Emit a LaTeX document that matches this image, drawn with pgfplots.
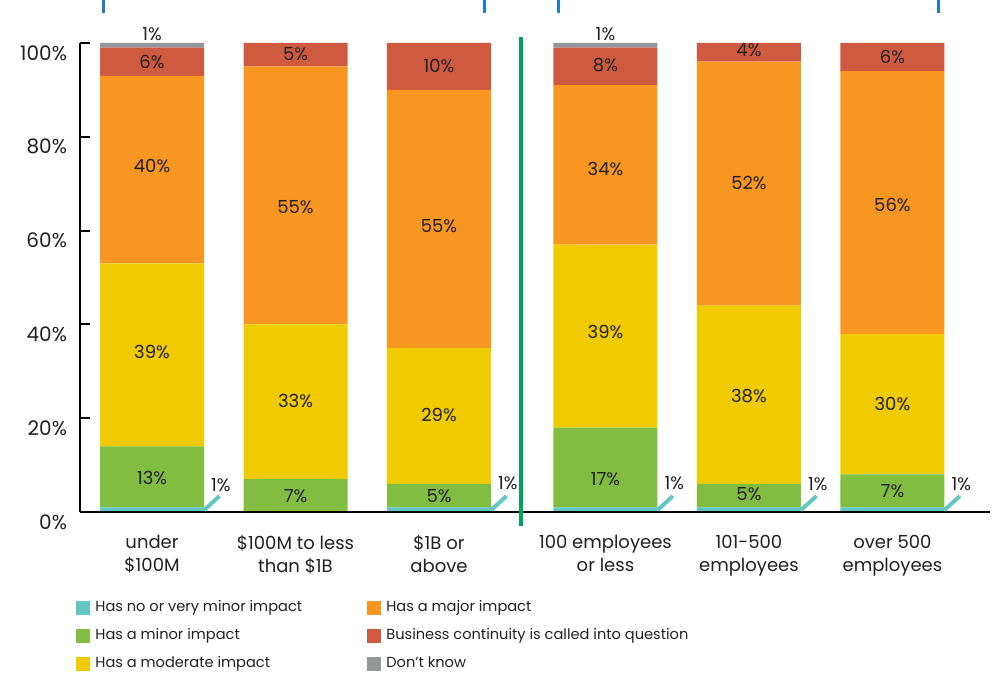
\documentclass[border=0pt]{standalone}
\usepackage{pgfplots}
\pgfplotsset{compat=1.18}
\usepackage{pgfplotstable}
\usepackage{fontspec}
\setmainfont{Poppins}

\definecolor{cyanc}{HTML}{62C6C3}
\definecolor{greenc}{HTML}{80BD41}
\definecolor{yellowc}{HTML}{EFCB00}
\definecolor{orangec}{HTML}{F79621}
\definecolor{redc}{HTML}{CE5A40}
\definecolor{greyc}{HTML}{939598}
\definecolor{sepgreen}{HTML}{00A35C}
\definecolor{topblue}{HTML}{1D7DC5}
\definecolor{txt}{HTML}{231F20}

% columns: none/very minor, minor, moderate, major, business continuity, don't know
\pgfplotstableread{
x    a  b  c  d  e  f
0    1  13 39 40 6  1
1    0  7  33 55 5  0
2    1  5  29 55 10 0
3.16 1  17 39 34 8  1
4.16 1  5  38 52 4  0
5.16 1  7  30 56 6  0
}\bars

% label positions (x, y in percent) and printed value
\pgfplotstableread{
x     y     v
0     101.9 1
0     95.9  6
0     73.8  40
0     34.1  39
0     7.2   13
0.48  5.8   1
1     97.7  5
1     65.0  55
1     23.7  33
1     3.4   7
2     95.1  10
2     61.0  55
2     20.7  29
2     3.4   5
2.48  6.2   1
3.16  101.9 1
3.16  95.3  8
3.16  73.1  34
3.16  38.4  39
3.16  7.0   17
3.64  6.2   1
4.16  98.5  4
4.16  70.1  52
4.16  24.7  38
4.16  3.8   5
4.64  6.0   1
5.16  97.0  6
5.16  65.5  56
5.16  23.0  30
5.16  4.5   7
5.64  6.0   1
}\labels

\pgfplotsset{
  commonaxis/.style={
    at={(40pt,80.5pt)}, anchor=south west,
    scale only axis, width=455pt, height=234.5pt,
    xmin=-0.502, xmax=5.84, ymin=0, ymax=100,
    clip=false,
  }
}

\begin{document}
\begin{tikzpicture}
\path[use as bounding box] (0,0) rectangle (496.5pt,336.5pt);

\begin{axis}[commonaxis,
  ybar stacked, bar width=0.725,
  axis lines*=left,
  axis on top,
  axis line style={line width=1.4pt, black},
  xtick={0,1,2,3.16,4.16,5.16},
  xticklabels={under\\\$100M, \$100M to less\\than \$1B, \$1B or\\above,
               100 employees\\or less, 101-500\\employees, over 500\\employees},
  xticklabel style={align=center, font=\fontsize{9}{11.5}\selectfont, text=txt, yshift=-8pt},
  major x tick style={draw=none},
  ytick={0,20,40,60,80,100},
  yticklabels={0\%,20\%,40\%,60\%,80\%,100\%},
  yticklabel style={font=\fontsize{10}{12}\selectfont, text=txt, xshift=-3pt, yshift=-5pt},
  tick align=inside, major tick length=5pt,
  major y tick style={line width=1pt, black},
]
\addplot[fill=cyanc, draw=none] table[x=x, y=a]{\bars};
\addplot[fill=greenc, draw=none] table[x=x, y=b]{\bars};
\addplot[fill=yellowc, draw=none] table[x=x, y=c]{\bars};
\addplot[fill=orangec, draw=none] table[x=x, y=d]{\bars};
\addplot[fill=redc, draw=none] table[x=x, y=e]{\bars};
\addplot[fill=greyc, draw=none] table[x=x, y=f]{\bars};
\end{axis}

\begin{axis}[commonaxis, hide axis,
  legend columns=2,
  legend image code/.code={\path[#1] (0pt,-3.5pt) rectangle (7pt,3.5pt);},
  legend style={at={(-0.0044,-0.189)}, anchor=north west, draw=none, fill=none,
    inner sep=0pt, font=\fontsize{7.3}{8}\selectfont, text=txt,
    row sep=7pt, cells={anchor=west},
    nodes={inner sep=0pt, text height=5.2pt, text depth=1.5pt},
    /tikz/every odd column/.append style={column sep=2.5pt},
    /tikz/every even column/.append style={column sep=0pt},
  },
]
\addplot[forget plot, draw=none, mark=none, nodes near coords={\pgfplotspointmeta\%},
  point meta=explicit symbolic,
  nodes near coords style={anchor=center, font=\fontsize{9}{10}\selectfont, text=txt}]
  table[x=x, y=y, meta=v]{\labels};
\addplot[forget plot, cyanc, line width=2pt] coordinates {(0.3625,0.4) (0.47,3.4)};
\addplot[forget plot, cyanc, line width=2pt] coordinates {(2.3625,0.4) (2.47,3.4)};
\addplot[forget plot, cyanc, line width=2pt] coordinates {(3.5225,0.4) (3.63,3.4)};
\addplot[forget plot, cyanc, line width=2pt] coordinates {(4.5225,0.4) (4.63,3.4)};
\addplot[forget plot, cyanc, line width=2pt] coordinates {(5.5225,0.4) (5.63,3.4)};
\addlegendimage{fill=cyanc, draw=none}
\addlegendentry{\makebox[136pt][l]{Has no or very minor impact}}
\addlegendimage{fill=orangec, draw=none}
\addlegendentry{Has a major impact}
\addlegendimage{fill=greenc, draw=none}
\addlegendentry{Has a minor impact}
\addlegendimage{fill=redc, draw=none}
\addlegendentry{Business continuity is called into question}
\addlegendimage{fill=yellowc, draw=none}
\addlegendentry{Has a moderate impact}
\addlegendimage{fill=greyc, draw=none}
\addlegendentry{Don't know}
\end{axis}

% separator and top bracket marks
\draw[sepgreen, line width=2pt] (260.5pt,318pt) -- (260.5pt,73.5pt);
\draw[topblue, line width=1.5pt] (51.5pt,336.5pt) -- (51.5pt,330pt);
\draw[topblue, line width=1.5pt] (242pt,336.5pt) -- (242pt,330pt);
\draw[topblue, line width=1.5pt] (279pt,336.5pt) -- (279pt,330pt);
\draw[topblue, line width=1.5pt] (469pt,336.5pt) -- (469pt,330pt);
\end{tikzpicture}
\end{document}
